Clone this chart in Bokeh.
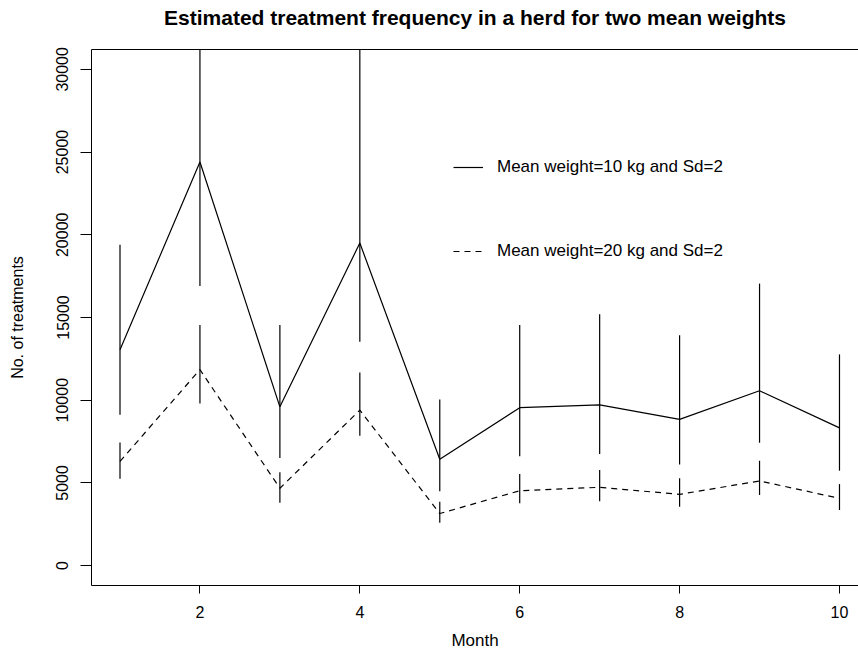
from bokeh.plotting import figure
from bokeh.models import Range1d, LinearAxis, FixedTicker, Legend, LegendItem, ColumnDataSource
from bokeh.embed import file_html
from bokeh.resources import INLINE

# ---- data ----
months = [1, 2, 3, 4, 5, 6, 7, 8, 9, 10]
mean_10kg = [13050, 24400, 9600, 19500, 6430, 9550, 9720, 8840, 10570, 8330]
upper_10kg = [19400, 36000, 14550, 34000, 10050, 14550, 15200, 13930, 17050, 12770]
lower_10kg = [9120, 16900, 6500, 13530, 4500, 6620, 6750, 6120, 7430, 5740]
mean_20kg = [6300, 11850, 4680, 9400, 3150, 4530, 4735, 4310, 5120, 4070]
upper_20kg = [7450, 14550, 5650, 11680, 3860, 5540, 5780, 5280, 6340, 4930]
lower_20kg = [5250, 9800, 3800, 7850, 2600, 3770, 3900, 3560, 4270, 3360]
x_ticks = [2, 4, 6, 8, 10]
y_ticks = [0, 5000, 10000, 15000, 20000, 25000, 30000]
labels = ["Mean weight=10 kg and Sd=2", "Mean weight=20 kg and Sd=2"]
title_text = "Estimated treatment frequency in a herd for two mean weights"

FONT = "Liberation Sans"

p = figure(width=858, height=652, output_backend="svg", toolbar_location=None,
           x_range=Range1d(0.6435, 10.2378), y_range=Range1d(-1200, 31200),
           min_border_left=91, min_border_right=0, min_border_top=49, min_border_bottom=67,
           title=title_text + "\n")
p.outline_line_color = None
p.xgrid.visible = False
p.ygrid.visible = False
p.background_fill_color = "white"
p.border_fill_color = "white"

p.title.align = "center"
p.title.text_font = FONT
p.title.text_font_size = "21px"
p.title.text_font_style = "bold"
p.title.text_color = "black"
p.title.text_line_height = 0.75
p.title.standoff = 7

for ax in (p.xaxis[0], p.yaxis[0]):
    ax.axis_line_color = "black"
    ax.major_tick_line_color = "black"
    ax.minor_tick_line_color = None
    ax.major_tick_in = 0
    ax.major_label_text_font = FONT
    ax.major_label_text_font_size = "16px"
    ax.major_label_text_color = "black"
    ax.axis_label_text_font = FONT
    ax.axis_label_text_font_style = "normal"
    ax.axis_label_text_color = "black"

p.xaxis.ticker = FixedTicker(ticks=x_ticks)
p.xaxis.major_tick_out = 8
p.xaxis.major_label_standoff = 12
p.xaxis.axis_label = "Month"
p.xaxis.axis_label_text_font_size = "17px"
p.xaxis.axis_label_standoff = 10

p.yaxis.ticker = FixedTicker(ticks=y_ticks)
p.yaxis.major_tick_out = 11
p.yaxis.major_label_standoff = 12
p.yaxis.major_label_orientation = "vertical"
p.yaxis.axis_label = "No. of treatments"
p.yaxis.axis_label_text_font_size = "16px"
p.yaxis.axis_label_standoff = 28

# top edge of the box (R draws a box; the right edge is outside the cropped image)
top = LinearAxis(ticker=FixedTicker(ticks=[]), major_tick_out=0, major_tick_in=0,
                 minor_tick_out=0, minor_tick_in=0, axis_line_color="black",
                 major_tick_line_color=None, minor_tick_line_color=None,
                 major_label_text_font_size="0px")
p.add_layout(top, "above")

bars = ColumnDataSource(dict(x=months + months,
                             lo=lower_10kg + lower_20kg,
                             hi=upper_10kg + upper_20kg))
p.segment(x0="x", y0="lo", x1="x", y1="hi", source=bars, line_color="black", line_width=1.2)

r1 = p.line(months, mean_10kg, line_color="black", line_width=1.2)
r2 = p.line(months, mean_20kg, line_color="black", line_width=1.2, line_dash="6 5")

legend = Legend(items=[LegendItem(label=labels[0], renderers=[r1]),
                       LegendItem(label=labels[1], renderers=[r2])],
                location=(362, 324), orientation="vertical",
                glyph_width=30, glyph_height=20, label_height=20, spacing=64,
                padding=0, margin=0, border_line_color=None, background_fill_alpha=0,
                label_standoff=14, label_text_font=FONT, label_text_font_size="17px",
                label_text_color="black")
p.add_layout(legend)

open("out.html", "w").write(file_html(p, INLINE))
